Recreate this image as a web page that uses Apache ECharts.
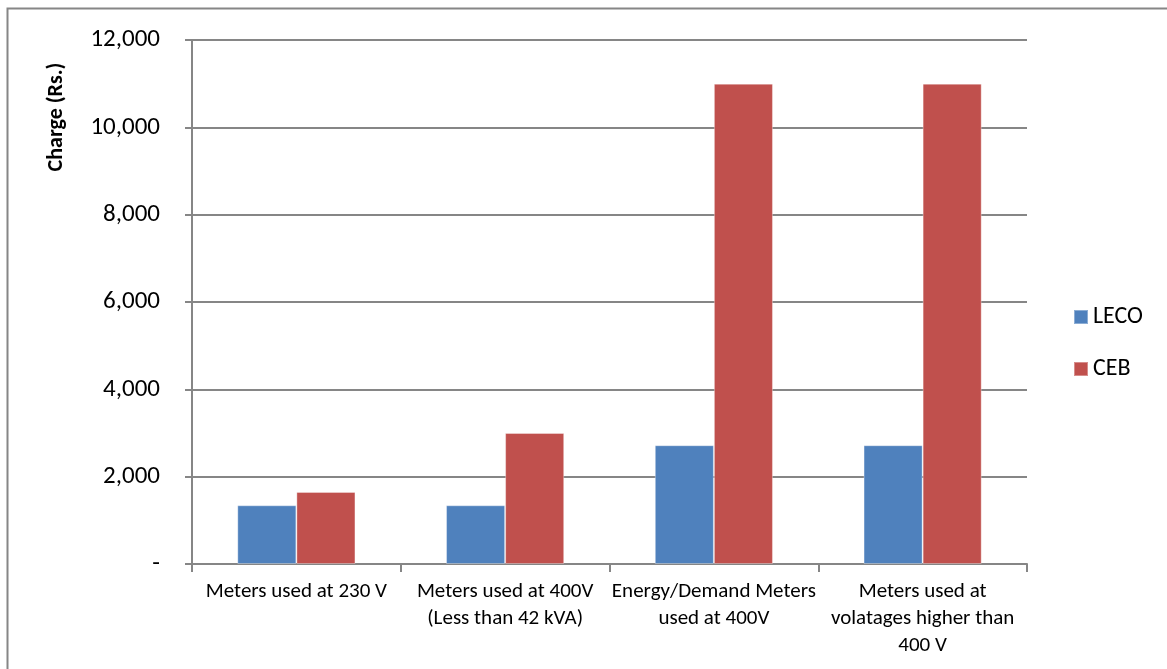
<!DOCTYPE html>
<html>
<head>
<meta charset="utf-8">
<title>Meter charges: LECO vs CEB</title>
<script src="https://cdn.jsdelivr.net/npm/echarts@6/dist/echarts.min.js"></script>
<style>
  html, body { margin: 0; padding: 0; background: #ffffff; }
  #chart { width: 1167px; height: 669px; }
</style>
</head>
<body>
<div id="chart"></div>
<script>
// Meter categories (line breaks follow the wrapped axis labels)
const categories = [
  'Meters used at 230 V',
  'Meters used at 400V\n(Less than 42 kVA)',
  'Energy/Demand Meters\nused at 400V',
  'Meters used at\nvolatages higher than\n400 V'
];

// Charges in Rs.
const lecoValues = [1344, 1344, 2720, 2720];
const cebValues = [1650, 3000, 11000, 11000];

const seriesNames = ['LECO', 'CEB'];
const axisTitle = 'Charge (Rs.)';

const FONT = 'Carlito, Lato, "Liberation Sans", sans-serif';
const AXIS_GRAY = '#868686';

const chart = echarts.init(document.getElementById('chart'), null, { renderer: 'canvas' });

chart.setOption({
  animation: false,
  backgroundColor: '#ffffff',
  textStyle: { fontFamily: FONT, color: '#000000' },
  grid: { left: 192, right: 140, top: 40, bottom: 105, containLabel: false },
  legend: {
    orient: 'vertical',
    left: 1068,
    top: 300,
    itemWidth: 14,
    itemHeight: 14,
    itemGap: 28,
    icon: 'rect',
    data: seriesNames,
    textStyle: { fontFamily: FONT, fontSize: 24, lineHeight: 22, color: '#000000', padding: [0, 0, 0, 0] }
  },
  xAxis: {
    type: 'category',
    data: categories,
    axisLine: { lineStyle: { color: AXIS_GRAY, width: 2 } },
    axisTick: { show: true, length: 8, alignWithLabel: false, lineStyle: { color: AXIS_GRAY, width: 2 } },
    axisLabel: {
      fontFamily: FONT,
      fontSize: 21,
      lineHeight: 27,
      color: '#000000',
      margin: 14,
      interval: 0
    },
    splitLine: { show: false }
  },
  yAxis: {
    type: 'value',
    min: 0,
    max: 12000,
    interval: 2000,
    axisLine: { show: true, lineStyle: { color: AXIS_GRAY, width: 2 } },
    axisTick: { show: true, length: 7, lineStyle: { color: AXIS_GRAY, width: 2 } },
    axisLabel: {
      fontFamily: FONT,
      fontSize: 25,
      color: '#000000',
      margin: 32,
      formatter: function (v) { return v === 0 ? '-' : v.toLocaleString('en-US'); }
    },
    splitLine: { show: true, lineStyle: { color: AXIS_GRAY, width: 2 } }
  },
  series: [
    {
      name: seriesNames[0],
      type: 'bar',
      data: lecoValues,
      barWidth: '28.3%',
      barGap: '0%',
      itemStyle: { color: '#4F81BD', borderColor: 'rgba(255,255,255,0.35)', borderWidth: 1 }
    },
    {
      name: seriesNames[1],
      type: 'bar',
      data: cebValues,
      barWidth: '28.3%',
      barGap: '0%',
      itemStyle: { color: '#C0504D', borderColor: 'rgba(255,255,255,0.35)', borderWidth: 1 }
    }
  ],
  graphic: [
    {
      type: 'rect',
      silent: true,
      shape: { x: 7.5, y: 8.5, width: 1200, height: 700 },
      style: { fill: 'none', stroke: AXIS_GRAY, lineWidth: 2 },
      z: -1
    },
    {
      type: 'text',
      x: 56,
      y: 117,
      rotation: Math.PI / 2,
      style: {
        text: axisTitle,
        fontFamily: FONT,
        fontSize: 22,
        fontWeight: 'bold',
        fill: '#000000',
        textAlign: 'center',
        textVerticalAlign: 'middle'
      }
    }
  ]
});
</script>
</body>
</html>
